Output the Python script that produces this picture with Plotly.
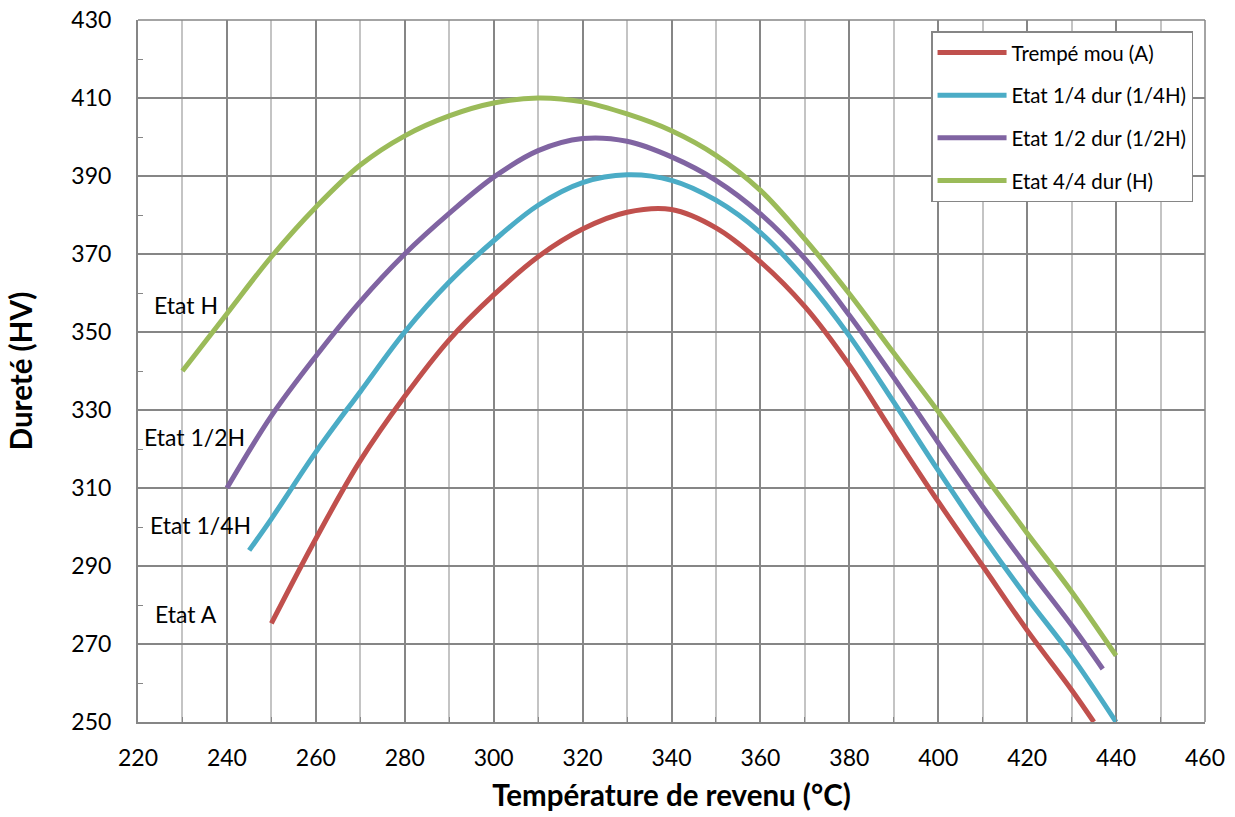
import plotly.graph_objects as go

# Data
x_A = [250, 260, 270, 280, 290, 300, 310, 320, 330, 340, 350, 360, 370, 380, 390, 400, 410, 420, 430, 435]
y_A = [275.3, 297, 317, 333.5, 348, 359.5, 369.3, 376.4, 380.7, 381.4, 376.7, 368, 356.5, 341.5, 323.8, 306.5, 290, 273.5, 258.2, 250]

x_Q = [245, 250, 260, 270, 280, 290, 300, 310, 320, 330, 340, 350, 360, 370, 380, 390, 400, 410, 420, 430, 440]
y_Q = [294, 302.1, 319.2, 334.7, 350, 362.8, 373.4, 382.5, 388.3, 390.3, 388.9, 383.8, 375.5, 363.6, 349, 332, 314.5, 297.6, 281.8, 266.9, 250]

x_HH = [240, 250, 260, 270, 280, 290, 300, 310, 320, 330, 340, 350, 360, 370, 380, 390, 400, 410, 420, 430, 437]
y_HH = [310, 328.5, 343.8, 357.8, 370, 380.4, 389.7, 396.5, 399.6, 398.9, 394.9, 388.9, 380.3, 368.8, 354.3, 338.3, 321.6, 305.2, 289.7, 274.8, 263.6]

x_H = [230, 240, 250, 260, 270, 280, 290, 300, 310, 320, 330, 340, 350, 360, 370, 380, 390, 400, 410, 420, 430, 440]
y_H = [340, 354.7, 369.3, 382, 392.8, 400.3, 405.4, 408.7, 410, 409, 405.9, 401.6, 395.3, 386.3, 373.8, 359.8, 344.6, 329.6, 313.8, 298.4, 283.4, 267]

series_names = ["Trempé mou (A)", "Etat 1/4 dur (1/4H)", "Etat 1/2 dur (1/2H)", "Etat 4/4 dur (H)"]
series_colors = ["#c0504d", "#4bacc6", "#8064a2", "#9bbb59"]

label_texts = ["Etat H", "Etat 1/2H", "Etat 1/4H", "Etat A"]
label_x = [230.8, 232.8, 234, 230.8]
label_y = [356.8, 323, 300.6, 277.7]

FONT = "Lato, 'Open Sans', sans-serif"

fig = go.Figure()
for i, (xs, ys, name, col) in enumerate(zip([x_A, x_Q, x_HH, x_H], [y_A, y_Q, y_HH, y_H], series_names, series_colors)):
    fig.add_trace(go.Scatter(x=xs, y=ys, mode="lines", name=name, legendgroup=f"g{i}",
                             line=dict(color=col, width=5, shape="spline", smoothing=1.0)))

for t, lx, ly in zip(label_texts, label_x, label_y):
    fig.add_annotation(x=lx, y=ly, text=t, showarrow=False,
                       font=dict(family=FONT, size=23, color="black"))

fig.update_layout(
    width=1235, height=817,
    margin=dict(l=138, r=30, t=20, b=95, autoexpand=False),
    paper_bgcolor="white", plot_bgcolor="white",
    font=dict(family=FONT, color="black"),
    legend=dict(x=0.9888, y=0.984, xanchor="right", yanchor="top",
                bgcolor="white", bordercolor="#868686", borderwidth=1.5,
                font=dict(family=FONT, size=20.5), tracegroupgap=13,
                itemwidth=69),
    xaxis=dict(range=[220, 460], dtick=20, tick0=220, automargin=False,
               showgrid=True, gridcolor="#868686", gridwidth=1.5,
               showline=True, linecolor="#868686", linewidth=2,
               ticks="inside", ticklen=5, tickcolor="#868686",
               tickfont=dict(size=23, family=FONT), ticklabelstandoff=14,
               minor=dict(dtick=10, showgrid=True, gridcolor="#c4c4c4", gridwidth=1.5,
                          ticks="inside", ticklen=5, tickcolor="#868686"),
               title=dict(text="<b>Température de revenu (°C)</b>", font=dict(size=29.5, family=FONT), standoff=16),
               zeroline=False),
    yaxis=dict(range=[250, 430], dtick=20, tick0=250, automargin=False,
               showgrid=True, gridcolor="#868686", gridwidth=1.5,
               showline=True, linecolor="#868686", linewidth=2,
               ticks="inside", ticklen=6, tickcolor="#868686",
               tickfont=dict(size=23, family=FONT), ticklabelstandoff=20,
               minor=dict(dtick=10, showgrid=False, ticks="inside", ticklen=5, tickcolor="#868686"),
               title=dict(text="<b>Dureté (HV)</b>", font=dict(size=29.5, family=FONT), standoff=30),
               zeroline=False),
)
fig.add_shape(type="line", xref="paper", yref="paper", x0=1, x1=1, y0=0, y1=1,
              line=dict(color="#868686", width=1.5))
fig.add_shape(type="line", xref="paper", yref="paper", x0=0, x1=1, y0=1, y1=1,
              line=dict(color="#868686", width=1.5))

fig.write_html("out.html")
